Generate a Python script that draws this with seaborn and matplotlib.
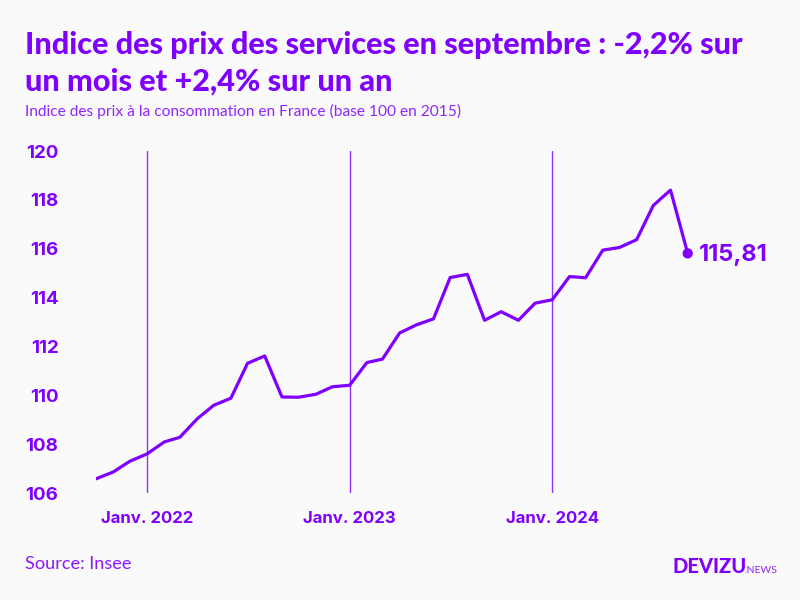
import matplotlib
matplotlib.use("Agg")
import matplotlib.dates as mdates
import matplotlib.pyplot as plt
import pandas as pd
import seaborn as sns

# Indice des prix des services, oct. 2021 -> sept. 2024
months = pd.date_range("2021-10-01", "2024-09-01", freq="MS")
values = [106.58, 106.86, 107.30,
          107.60, 108.09, 108.28, 109.03, 109.59, 109.88,
          111.31, 111.61, 109.93, 109.92, 110.04, 110.35,
          110.41, 111.34, 111.48, 112.55, 112.88, 113.13,
          114.82, 114.95, 113.07, 113.42, 113.07, 113.77,
          113.91, 114.86, 114.81, 115.94, 116.05, 116.37,
          117.77, 118.40, 115.81]
year_ticks = pd.to_datetime(["2022-01-01", "2023-01-01", "2024-01-01"])
year_labels = ["Janv. 2022", "Janv. 2023", "Janv. 2024"]
y_ticks = [106, 108, 110, 112, 114, 116, 118, 120]
last_label = "115,81"

PURPLE = "#7F00FF"
BG = "#FAFAFA"

sns.set_theme(style="white")
plt.rcParams["font.family"] = ["Lato", "DejaVu Sans"]

df = pd.DataFrame({"mois": months, "indice": values})

fig = plt.figure(figsize=(8, 6), dpi=100, facecolor=BG)
ax = fig.add_axes([96 / 800, 1 - 493 / 600, (687.7 - 96) / 800, (493 - 151) / 600])
ax.set_facecolor(BG)

sns.lineplot(data=df, x="mois", y="indice", color=PURPLE, linewidth=2.3, ax=ax, zorder=3)
sns.scatterplot(data=df.tail(1), x="mois", y="indice", color=PURPLE, s=55,
                edgecolor="none", ax=ax, zorder=4, clip_on=False)

ax.set_xlim(months[0], months[-1])
ax.set_ylim(106, 120)
ax.set_xticks(mdates.date2num(year_ticks))
ax.set_xticklabels(year_labels)
ax.set_yticks(y_ticks)
ax.grid(axis="x", color=PURPLE, linewidth=1, alpha=0.8)
ax.grid(axis="y", visible=False)
ax.set_xlabel("")
ax.set_ylabel("")
sns.despine(ax=ax, left=True, bottom=True)

ax.tick_params(axis="x", length=0, pad=13, labelcolor=PURPLE)
ax.tick_params(axis="y", length=0, pad=27, labelcolor=PURPLE)
for lab in ax.get_xticklabels():
    lab.set_fontfamily(["Inter", "DejaVu Sans"])
    lab.set_fontweight("bold")
    lab.set_fontsize(12.1)
for lab in ax.get_yticklabels():
    lab.set_fontfamily(["Inter", "DejaVu Sans"])
    lab.set_fontweight("bold")
    lab.set_fontsize(13.5)

ax.annotate(last_label, xy=(months[-1], values[-1]), xytext=(8, -1.5),
            textcoords="offset points", va="center", ha="left", color=PURPLE,
            fontsize=17, fontweight="bold", family=["Inter", "DejaVu Sans"],
            annotation_clip=False)

fig.text(25 / 800, 1 - 54 / 600, "Indice des prix des services en septembre : -2,2% sur",
         color=PURPLE, fontsize=22.1, fontweight="black", va="baseline")
fig.text(25 / 800, 1 - 91 / 600, "un mois et +2,4% sur un an",
         color=PURPLE, fontsize=22.1, fontweight="black", va="baseline")
fig.text(25 / 800, 1 - 116.5 / 600, "Indice des prix à la consommation en France (base 100 en 2015)",
         color=PURPLE, fontsize=11.15, alpha=0.85, va="baseline")
fig.text(25 / 800, 1 - 569 / 600, "Source: Insee", color=PURPLE, fontsize=13.1, alpha=0.9, va="baseline")
fig.text(673 / 800, 1 - 573 / 600, "DEVIZU", color=PURPLE, fontsize=14.5, fontweight="black", va="baseline")
fig.text(744 / 800, 1 - 573 / 600, ".NEWS", color=PURPLE, fontsize=7.5, alpha=0.85, va="baseline")

fig.savefig("out.png", dpi=100, facecolor=BG)
